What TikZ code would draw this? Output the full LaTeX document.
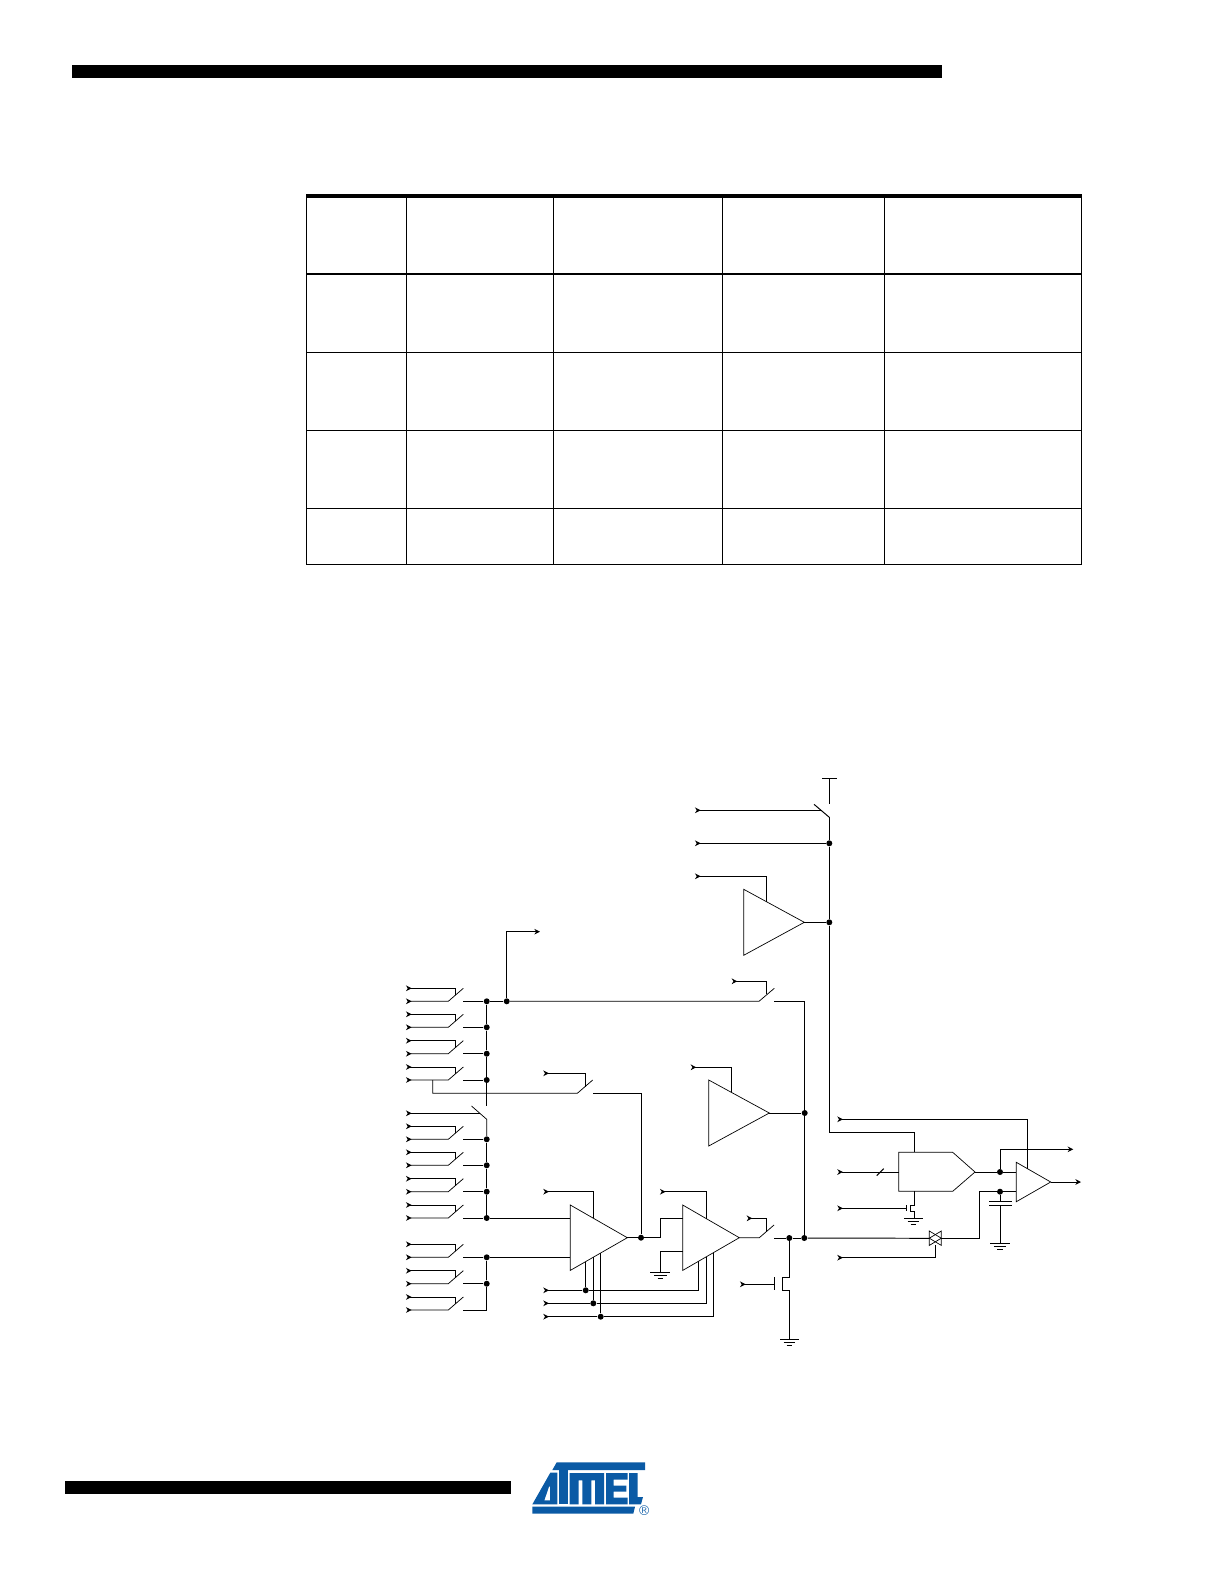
\documentclass[tikz,border=0pt]{standalone}
\usepackage{tikz}
\usetikzlibrary{shapes,arrows.meta}
\definecolor{logoblue}{RGB}{10,90,165}
\tikzset{
  dot/.style={circle,fill=black,inner sep=0pt,minimum size=0.12cm},
  inlet/.style={{Stealth[reversed,length=3.2pt,width=3.2pt,inset=1pt]}-},
  outlet/.style={-{Stealth[length=3.2pt,width=3.2pt,inset=1pt]}},
  ampline/.style={line width=0.4pt,line join=miter},
  thinline/.style={line width=0.42pt},
  rule/.style={line width=0.55pt}
}
% triangle: name, left x, centre y, width, half height
\newcommand{\ampshape}[5]{
  \coordinate (#1-a) at (#2,#3-#5);
  \coordinate (#1-b) at (#2,#3+#5);
  \coordinate (#1-o) at (#2+#4,#3);
  \draw [ampline] (#1-a) -- (#1-o) -- (#1-b) -- cycle;
}
% three bars of a ground: name, x, y, half width
\newcommand{\gndshape}[4]{
  \coordinate (#1) at (#2,#3);
  \draw (#2-#4,#3) -- (#2+#4,#3);
  \draw (#2-0.62*#4,#3+3) -- (#2+0.62*#4,#3+3);
  \draw (#2-0.28*#4,#3+6) -- (#2+0.28*#4,#3+6);
}
\begin{document}
\begin{tikzpicture}[x=0.02cm,y=-0.02cm,line width=0.55pt]
    \useasboundingbox (0,0) rectangle (1224,1584);

    % Header and footer bars
    \fill (72,64.6) rectangle (942,78);
    \fill (65,1481) rectangle (511,1494);

    % Draw the empty table
    \fill (306,194) rectangle (1082,197.8);
    \draw [line width=1.7pt] (306,274) -- (1082,274);
    \foreach \rowy in {352.5,430.5,508.5,564.5}
        \draw [rule] (306,\rowy) -- (1082,\rowy);
    \foreach \colx in {306.5,406.5,553.5,722.5,884.5,1081.5}
        \draw [rule] (\colx,196) -- (\colx,564.8);

    % Input switches on the left
    \foreach \n/\rowy in {1/1001.3,2/1027.3,3/1053.7,4/1080,
                          5/1139.3,6/1165.3,7/1191.7,8/1218,
                          9/1257.3,10/1283.7,11/1310} {
        \coordinate (in\n) at (406,\rowy);
        \coordinate (ctl\n) at (406,\rowy-13);
        \coordinate (sw\n) at (448.3,\rowy);
        \coordinate (arm\n) at (455.3,\rowy-6);
        \coordinate (stub\n) at (463,\rowy);
        \draw [inlet,thinline] (in\n) -- (sw\n) -- (463.3,\rowy-13);
        \draw [inlet] (ctl\n) -| (arm\n);
        \ifnum\n<11
            \node [dot] (bus\n) at (486.7,\rowy) {};
        \else
            \coordinate (bus\n) at (486.7,\rowy);
        \fi
        \draw (stub\n) -- (bus\n);
    }
    \coordinate (busend) at (486.7,1105.7);
    \draw (bus1) -- (bus2) -- (bus3) -- (bus4) -- (busend);
    \draw (bus5) -- (bus6) -- (bus7) -- (bus8);
    \draw (bus9) -- (bus10) -- (486.7,1310) -- (stub11);

    % Switch between the two upper buses
    \coordinate (inS) at (406,1113.3);
    \coordinate (swSa) at (471.5,1106);
    \coordinate (swSb) at (486.7,1119.3);
    \draw [thinline] (swSa) -- (swSb) -- (bus5);
    \draw [inlet] (inS) -- (480,1113.3);

    % Analog output line to the right
    \node [dot] (jOut) at (506.7,1001.3) {};
    \coordinate (outTop) at (540,931.7);
    \draw [outlet] (jOut) |- (outTop);
    \draw (bus1) -- (jOut);
    \coordinate (swRa) at (759,1001.3);
    \coordinate (swRb) at (774.3,988.3);
    \coordinate (stubR) at (774,1001.3);
    \coordinate (ctlR) at (731.7,981.3);
    \draw [thinline] (jOut) -- (swRa) -- (swRb);
    \draw [inlet] (ctlR) -| (766.3,994.3);

    % Bypass switch from the fourth input
    \coordinate (tapB) at (432.7,1080);
    \coordinate (swBa) at (577.3,1093.3);
    \coordinate (swBb) at (592.7,1080);
    \coordinate (stubB) at (593,1093.3);
    \coordinate (ctlB) at (543.3,1073.3);
    \draw [thinline] (tapB) |- (swBa) -- (swBb);
    \draw [inlet] (ctlB) -| (585.3,1086.7);

    % Top part: supply switch and upper amplifier
    \coordinate (vTop) at (829.3,778.3);
    \draw (822.3,778.3) -- (836.7,778.3);
    \draw (vTop) -- (829.3,804);
    \coordinate (swTa) at (814,804.3);
    \coordinate (swTb) at (829.3,817.3);
    \draw (swTa) -- (swTb);
    \draw [inlet] (695,810.3) -- (821,810.3);
    \node [dot] (jTa) at (829.3,843.3) {};
    \node [dot] (jTb) at (829.3,922.3) {};
    \draw [inlet,thinline] (695,843.3) -- (jTa);
    \ampshape{ampT}{743.7}{922.3}{60.6}{33}
    \draw [inlet] (695,876.3) -| (766.7,901.8);
    \draw (ampT-o) -- (jTb);
    \coordinate (railT) at (829.3,1132.7);
    \draw [thinline] (swTb) -- (jTa) -- (jTb) -- (railT);

    % Middle amplifier
    \ampshape{ampM}{708.7}{1113}{60.6}{33}
    \node [dot] (jMid) at (804.7,1113) {};
    \draw (ampM-o) -- (jMid);
    \draw [inlet] (690.7,1067.3) -| (731.3,1092);

    % Lower amplifiers
    \ampshape{ampA}{570.3}{1237.7}{57}{32.7}
    \ampshape{ampB}{682.7}{1237.7}{56.6}{32.7}
    \draw (bus8) -- (570.3,1218);
    \draw (bus9) -- (570.3,1257.3);
    \draw [inlet] (543.3,1191.7) -| (593.3,1218.2);
    \node [dot] (jA) at (641,1237.7) {};
    \draw (ampA-o) -- (jA);
    \draw (stubB) -| (jA);
    \draw [thinline] (jA) -| (660.3,1218.3) -- (682.7,1218.3);
    \draw [inlet] (660,1191.7) -| (706.3,1218.6);
    \draw (682.7,1251.3) -| (660.3,1272.3);
    \gndshape{gndB}{660.3}{1272.3}{10}

    % Control rails below the amplifiers
    \foreach \n/\railx/\taxx/\rowy/\ya/\yb in {1/585.7/698.7/1290.3/1261.5/1261,
                                              2/593.3/706.3/1303.3/1257/1256.7,
                                              3/600.7/713.3/1316.7/1252.9/1252.6} {
        \node [dot] (rail\n) at (\railx,\rowy) {};
        \draw (rail\n) -- (\railx,\ya);
        \draw [inlet] (543.3,\rowy) -- (rail\n);
        \draw (rail\n) -| (\taxx,\yb);
    }

    % Output switch, discharge transistor and common node
    \coordinate (swOa) at (759.3,1237.7);
    \coordinate (swOb) at (774,1225);
    \draw [thinline] (ampB-o) -- (swOa) -- (swOb);
    \draw [inlet] (746.7,1218.3) -| (766.7,1231.7);
    \node [dot] (jQ) at (789.3,1238) {};
    \node [dot] (jR) at (804.3,1238) {};
    \draw (774,1238) -- (jQ) -- (jR);
    \draw (stubR) -| (jR);
    \draw (jQ) |- (782.3,1277) -- (782.3,1290.3) -| (789.3,1339);
    \draw (774.3,1277) -- (774.3,1289.7);
    \draw [inlet] (740,1284.3) -- (774.3,1284.3);
    \gndshape{gndQ}{789.3}{1339}{9.3}

    % Transmission gate
    \coordinate (tgL) at (929.3,1238.3);
    \coordinate (tgR) at (941.3,1238.3);
    \draw (jR) -- (tgL);
    \draw [line width=0.4pt] (929.3,1231) -- (941.3,1238.2) -- (929.3,1245.4) -- cycle;
    \draw [line width=0.4pt] (941.3,1231) -- (929.3,1238.2) -- (941.3,1245.4) -- cycle;
    \draw [inlet] (837.3,1257.7) -| (935.7,1245);

    % Converter block with its inputs
    \coordinate (blkIn) at (914.3,1152.3);
    \coordinate (blkOut) at (975,1172);
    \draw [ampline] (898.7,1152.3) -- (952.7,1152.3) -- (blkOut)
          -- (952.7,1191.3) -- (898.7,1191.3) -- cycle;
    \draw (railT) -| (blkIn);
    \draw [inlet] (837.3,1172) -- (898.7,1172);
    \draw (876.7,1175.7) -- (883.7,1168.7);
    \draw [inlet] (837.3,1208.3) -- (906.7,1208.3);
    \draw (906.7,1205.3) -- (906.7,1211.3);
    \draw (914.3,1191.3) -- (914.3,1205.3) -- (910.7,1205.3)
          -- (910.7,1211.3) -- (914.3,1211.3) -- (914.3,1218.3);
    \gndshape{gndC}{913.3}{1218.3}{9.3}

    % Comparator, hold capacitor and outputs
    \ampshape{ampC}{1016.3}{1182}{34.4}{19.7}
    \node [dot] (jC) at (1000,1172) {};
    \node [dot] (jH) at (1000,1191.7) {};
    \draw [thinline] (blkOut) -- (jC) -- (1016.3,1172);
    \draw [outlet] (jC) |- (1073.3,1149.3);
    \draw [outlet] (ampC-o) -- (1081,1182);
    \draw (tgR) -| (979.3,1191.7) -- (jH) -- (1016.3,1191.7);
    \draw [inlet] (837.3,1119.3) -| (1027.3,1168.6);
    \draw (jH) -- (1000,1201.7);
    \draw (989,1201.7) -- (1011.7,1201.7);
    \draw (989,1205) -- (1011.7,1205);
    \draw (1000,1205) -- (1000,1243.7);
    \gndshape{gndH}{1000}{1243.7}{10}

    % Logo
    \begin{scope}[shift={(525,1455)},x=0.00667cm,y=-0.00667cm,even odd rule]
        \fill [logoblue] (95,22) -- (360,22) -- (360,45) -- (82,45) -- cycle;
        \fill [logoblue] (22,155) -- (330,155) -- (325,176) -- (22,176) -- cycle;
        % A with its slit
        \fill [logoblue] (22,148) -- (76,53) -- (97,53) -- (97,148) -- cycle
              (72,95) -- (75,95) -- (75,136) -- (58,136) -- cycle;
        % T
        \fill [logoblue] (103,45) -- (129,45) -- (129,148) -- (103,148) -- cycle;
        % M
        \fill [logoblue] (134,54) -- (237,54) -- (237,148) -- (210,148) -- (210,76)
              -- (199,76) -- (199,148) -- (172,148) -- (172,76) -- (161,76)
              -- (161,148) -- (134,148) -- cycle;
        % E
        \fill [logoblue] (243,54) -- (308,54) -- (308,74) -- (266,74) -- (266,92)
              -- (304,92) -- (304,110) -- (266,110) -- (266,128) -- (308,128)
              -- (308,148) -- (243,148) -- cycle;
        % L
        \fill [logoblue] (312,54) -- (338,54) -- (338,126) -- (354,126) -- (348,148)
              -- (312,148) -- cycle;
        \node [text=logoblue,inner sep=0pt,font=\fontsize{8}{8}\selectfont\sffamily] (reg)
              at (358,168) {\textregistered};
    \end{scope}
\end{tikzpicture}
\end{document}
